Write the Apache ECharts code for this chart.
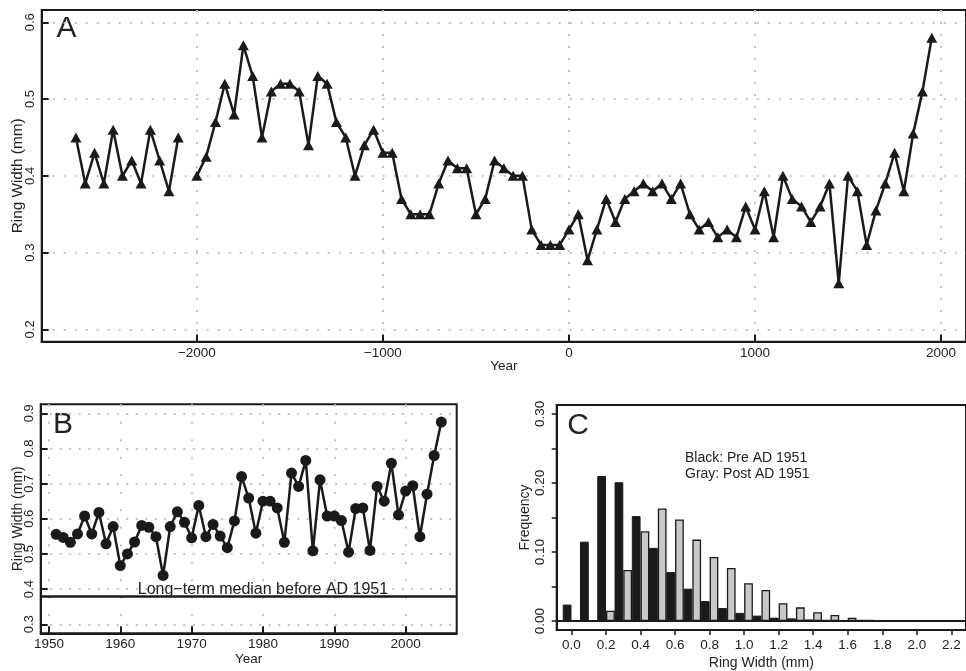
<!DOCTYPE html>
<html>
<head>
<meta charset="utf-8">
<script src="https://cdn.jsdelivr.net/npm/echarts@6/dist/echarts.min.js"></script>
<style>
    html, body { margin: 0; padding: 0; background: #fff; }
    #chart { width: 966px; height: 671px; }
</style>
</head>
<body>
<div id="chart"></div>
<script>
// A：长期年轮宽度（每50年一个点，-2050 缺测）
const yearsA = [-2650, -2600, -2550, -2500, -2450, -2400, -2350, -2300, -2250, -2200, -2150, -2100, -2050,
    -2000, -1950, -1900, -1850, -1800, -1750, -1700, -1650, -1600, -1550, -1500, -1450, -1400, -1350, -1300, -1250, -1200, -1150, -1100, -1050,
    -1000, -950, -900, -850, -800, -750, -700, -650, -600, -550, -500, -450, -400, -350, -300, -250, -200, -150, -100, -50,
    0, 50, 100, 150, 200, 250, 300, 350, 400, 450, 500, 550, 600, 650, 700, 750, 800, 850, 900, 950,
    1000, 1050, 1100, 1150, 1200, 1250, 1300, 1350, 1400, 1450, 1500, 1550, 1600, 1650, 1700, 1750, 1800, 1850, 1900, 1950];
const widthA = [0.45, 0.39, 0.43, 0.39, 0.46, 0.40, 0.42, 0.39, 0.46, 0.42, 0.38, 0.45, null,
    0.40, 0.425, 0.47, 0.52, 0.48, 0.57, 0.53, 0.45, 0.51, 0.52, 0.52, 0.51, 0.44, 0.53, 0.52, 0.47, 0.45, 0.40, 0.44, 0.46,
    0.43, 0.43, 0.37, 0.35, 0.35, 0.35, 0.39, 0.42, 0.41, 0.41, 0.35, 0.37, 0.42, 0.41, 0.40, 0.40, 0.33, 0.31, 0.31, 0.31,
    0.33, 0.35, 0.29, 0.33, 0.37, 0.34, 0.37, 0.38, 0.39, 0.38, 0.39, 0.37, 0.39, 0.35, 0.33, 0.34, 0.32, 0.33, 0.32, 0.36,
    0.33, 0.38, 0.32, 0.40, 0.37, 0.36, 0.34, 0.36, 0.39, 0.26, 0.40, 0.38, 0.31, 0.355, 0.39, 0.43, 0.38, 0.455, 0.51, 0.58];
const ticksAx = [-2000, -1000, 0, 1000, 2000];
const ticksAy = [0.2, 0.3, 0.4, 0.5, 0.6];

// B：1951年以后逐年
const yearsB = [1951, 1952, 1953, 1954, 1955, 1956, 1957, 1958, 1959, 1960,
    1961, 1962, 1963, 1964, 1965, 1966, 1967, 1968, 1969, 1970,
    1971, 1972, 1973, 1974, 1975, 1976, 1977, 1978, 1979, 1980,
    1981, 1982, 1983, 1984, 1985, 1986, 1987, 1988, 1989, 1990,
    1991, 1992, 1993, 1994, 1995, 1996, 1997, 1998, 1999, 2000,
    2001, 2002, 2003, 2004, 2005];
const widthB = [0.556, 0.547, 0.533, 0.557, 0.608, 0.557, 0.618, 0.529, 0.578, 0.467,
    0.500, 0.534, 0.581, 0.576, 0.549, 0.439, 0.578, 0.620, 0.590, 0.546,
    0.638, 0.549, 0.584, 0.551, 0.518, 0.594, 0.720, 0.659, 0.559, 0.650,
    0.650, 0.631, 0.533, 0.730, 0.692, 0.766, 0.509, 0.711, 0.608, 0.608,
    0.595, 0.505, 0.629, 0.631, 0.510, 0.692, 0.650, 0.758, 0.611, 0.679,
    0.694, 0.549, 0.670, 0.780, 0.875];
const medianPre1951 = 0.38;
const ticksBx = [1950, 1960, 1970, 1980, 1990, 2000];
const ticksBy = [0.3, 0.4, 0.5, 0.6, 0.7, 0.8, 0.9];

// C：频率分布（黑：1951年前，灰：1951年后）
const binsC = [0.0, 0.1, 0.2, 0.3, 0.4, 0.5, 0.6, 0.7, 0.8, 0.9, 1.0, 1.1,
    1.2, 1.3, 1.4, 1.5, 1.6, 1.7, 1.8, 1.9, 2.0, 2.1, 2.2];
const freqPre = [0.024, 0.115, 0.210, 0.201, 0.152, 0.106, 0.071, 0.047, 0.029, 0.019, 0.012, 0.008,
    0.005, 0.004, 0.0025, 0.002, 0.0017, 0.002, 0.0015, 0.001, 0.001, 0.0008, 0.0008];
const freqPost = [0, 0.0015, 0.015, 0.074, 0.130, 0.163, 0.147, 0.118, 0.093, 0.077, 0.055, 0.045,
    0.026, 0.020, 0.013, 0.009, 0.005, 0.002, 0.0015, 0.001, 0.001, 0.0008, 0.0008];
const ticksCx = [0.0, 0.2, 0.4, 0.6, 0.8, 1.0, 1.2, 1.4, 1.6, 1.8, 2.0, 2.2];
const ticksCy = [0, 0.05, 0.10, 0.15, 0.20, 0.25, 0.30];
const labelsCy = [0, 0.10, 0.20, 0.30];

const ink = '#1a1a1a';
const txt = '#222';
const dotGray = '#c2c2c2';
const font = '"Liberation Sans", Arial, Helvetica, sans-serif';

function minus(v) {
    return String(v).replace('-', '\u2212');
}

function boxGrid(left, top, width, height) {
    return {left: left, top: top, width: width, height: height, show: true,
        borderColor: ink, borderWidth: 2, backgroundColor: 'transparent'};
}

// 轴线与网格边框重合
const axisLine = {show: true, onZero: false, lineStyle: {color: ink, width: 2}};

// 轴名称：居中，不自动避让
function axisName(text, gap, size) {
    return {name: text, nameLocation: 'middle', nameGap: gap, nameMoveOverlap: false,
        nameTextStyle: {fontSize: size, color: txt}};
}

let chart = echarts.init(document.getElementById('chart'), null, {renderer: 'canvas'});

let option = {
    animation: false,
    textStyle: {fontFamily: font, color: txt},
    grid: [
        boxGrid(41.7, 10, 930, 331.7),
        boxGrid(40.7, 404.3, 416, 229),
        boxGrid(556.7, 405, 415, 228.3)
    ],
    xAxis: [
        Object.assign({
            gridIndex: 0, type: 'value', min: -2834, max: 2134,
            axisLine: axisLine,
            axisTick: {show: true, inside: true, length: 7, customValues: ticksAx, lineStyle: {color: ink, width: 2}},
            axisLabel: {customValues: ticksAx, margin: 5, fontSize: 13.5, color: txt, formatter: v => minus(v)},
            splitLine: {show: true, lineStyle: {color: dotGray, width: 2, type: [2, 10]}}
        }, axisName('Year', 18, 13.5)),
        Object.assign({
            gridIndex: 1, type: 'value', min: 1948.84, max: 2007.16,
            axisLine: axisLine,
            axisTick: {show: true, inside: true, length: 7, customValues: ticksBx, lineStyle: {color: ink, width: 2}},
            axisLabel: {customValues: ticksBx, margin: 4, fontSize: 13.5, color: txt, formatter: v => String(v)},
            splitLine: {show: true, lineStyle: {color: dotGray, width: 2, type: [2, 15.5]}}
        }, axisName('Year', 18.5, 13.5)),
        Object.assign({
            gridIndex: 2, type: 'value', min: -0.0857, max: 2.285,
            axisLine: axisLine,
            axisTick: {show: true, inside: false, length: 5, customValues: ticksCx, lineStyle: {color: ink, width: 1.5}},
            axisLabel: {customValues: ticksCx, margin: 8, fontSize: 13.5, color: txt, formatter: v => v.toFixed(1)},
            splitLine: {show: false}
        }, axisName('Ring Width (mm)', 26, 14))
    ],
    yAxis: [
        Object.assign({
            gridIndex: 0, type: 'value', min: 0.184, max: 0.616,
            axisLine: axisLine,
            axisTick: {show: true, inside: true, length: 7, customValues: ticksAy, lineStyle: {color: ink, width: 2}},
            axisLabel: {customValues: ticksAy, rotate: 90, margin: 5, fontSize: 13, color: txt, formatter: v => v.toFixed(1)},
            splitLine: {show: true, lineStyle: {color: dotGray, width: 2, type: [2, 9]}}
        }, axisName('Ring Width (mm)', 16, 15.3)),
        Object.assign({
            gridIndex: 1, type: 'value', min: 0.2744, max: 0.9256,
            axisLine: axisLine,
            axisTick: {show: true, inside: true, length: 7, customValues: ticksBy, lineStyle: {color: ink, width: 2}},
            axisLabel: {customValues: ticksBy, rotate: 90, margin: 5, fontSize: 13, color: txt, formatter: v => v.toFixed(1)},
            splitLine: {show: true, lineStyle: {color: dotGray, width: 2, type: [2, 7.5]}}
        }, axisName('Ring Width (mm)', 15.5, 14)),
        Object.assign({
            gridIndex: 2, type: 'value', min: -0.0128, max: 0.3128,
            axisLine: axisLine,
            axisTick: {show: true, inside: false, length: 5, customValues: ticksCy, lineStyle: {color: ink, width: 1.5}},
            axisLabel: {customValues: labelsCy, rotate: 90, margin: 9, fontSize: 13.5, color: txt, formatter: v => v.toFixed(2)},
            splitLine: {show: false}
        }, axisName('Frequency', 24.5, 14))
    ],
    series: [
        {
            type: 'line', xAxisIndex: 0, yAxisIndex: 0,
            data: yearsA.map((y, i) => [y, widthA[i] === null ? '-' : widthA[i]]),
            symbol: 'triangle', symbolSize: [11, 10], showSymbol: true, showAllSymbol: true,
            connectNulls: false,
            lineStyle: {color: ink, width: 2.5},
            itemStyle: {color: ink}
        },
        {
            type: 'line', xAxisIndex: 1, yAxisIndex: 1,
            data: yearsB.map((y, i) => [y, widthB[i]]),
            symbol: 'circle', symbolSize: 11, showSymbol: true, showAllSymbol: true,
            lineStyle: {color: ink, width: 2.5},
            itemStyle: {color: ink},
            markLine: {
                silent: true, symbol: 'none', label: {show: false},
                lineStyle: {color: ink, width: 2.5, type: 'solid'},
                data: [{yAxis: medianPre1951}]
            },
            markPoint: {
                silent: true, symbol: 'circle', symbolSize: 0,
                data: [{coord: [1980, medianPre1951]}],
                label: {
                    show: true, position: 'inside', offset: [0, -7],
                    formatter: 'Long\u2212term median before AD 1951',
                    fontSize: 16, color: txt, fontFamily: font
                }
            }
        },
        {
            type: 'bar', xAxisIndex: 2, yAxisIndex: 2,
            data: binsC.map((b, i) => [b, freqPre[i]]),
            barWidth: 8.75, barGap: '0%',
            itemStyle: {color: ink, borderColor: ink, borderWidth: 1},
            markLine: {
                silent: true, symbol: 'none', label: {show: false},
                lineStyle: {color: ink, width: 2, type: 'solid'},
                data: [{yAxis: 0}]
            }
        },
        {
            type: 'bar', xAxisIndex: 2, yAxisIndex: 2,
            data: binsC.map((b, i) => [b, freqPost[i]]),
            barWidth: 8.75, barGap: '0%',
            itemStyle: {color: '#c8c8c8', borderColor: ink, borderWidth: 1.3}
        }
    ],
    graphic: [
        {type: 'text', x: 66.5, y: 29, style: {text: 'A', font: '30px ' + font, fill: txt, textAlign: 'center', textVerticalAlign: 'middle'}},
        {type: 'text', x: 63, y: 425, style: {text: 'B', font: '30px ' + font, fill: txt, textAlign: 'center', textVerticalAlign: 'middle'}},
        {type: 'text', x: 578, y: 425.5, style: {text: 'C', font: '30px ' + font, fill: txt, textAlign: 'center', textVerticalAlign: 'middle'}},
        {type: 'text', x: 685, y: 466.3, style: {text: 'Black: Pre AD 1951\nGray: Post AD 1951', font: '14px ' + font, lineHeight: 16, fill: txt, textAlign: 'left', textVerticalAlign: 'middle'}}
    ]
};
chart.setOption(option);
</script>
</body>
</html>
